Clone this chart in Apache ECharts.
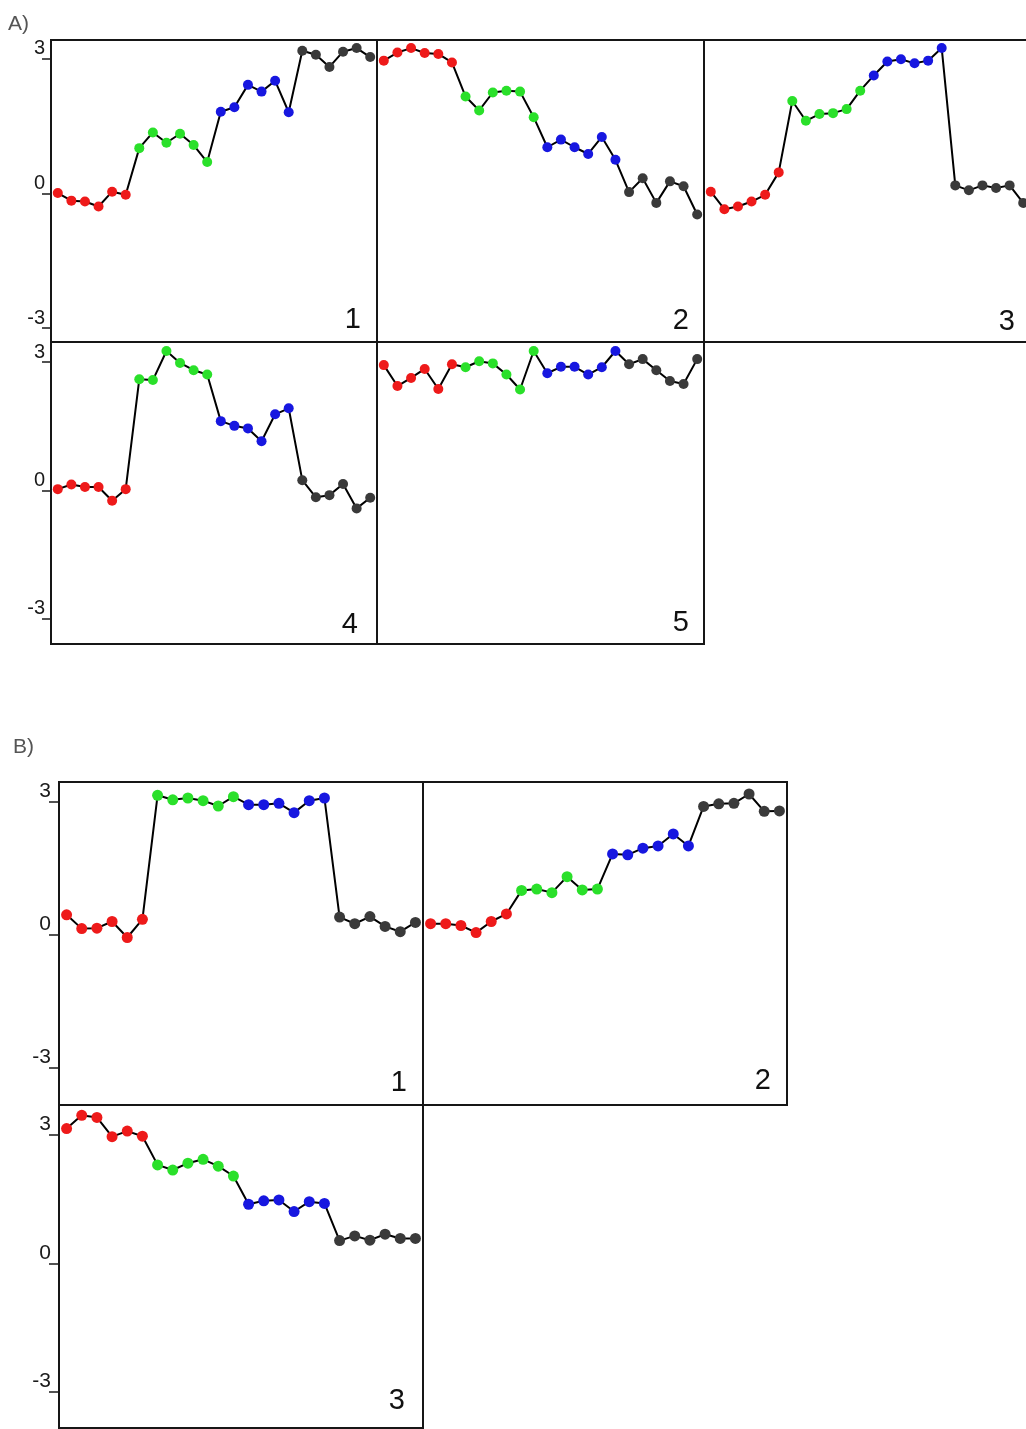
<!DOCTYPE html>
<html>
<head>
<meta charset="utf-8">
<script src="https://cdn.jsdelivr.net/npm/echarts@6/dist/echarts.min.js"></script>
<style>
html,body{margin:0;padding:0;background:#ffffff;}
#c{width:1026px;height:1429px;}
</style>
</head>
<body>
<div id="c"></div>
<script>
// ---- data ----
const categories = ['1','2','3','4','5','6','7','8','9','10','11','12','13','14','15','16','17','18','19','20','21','22','23','24'];
const groupColors = ['#ee1a1a', '#2ae02a', '#1717e0', '#3a3a3a']; // 6 points each
const groupSize = 6;
const yTickValues = [-3, 0, 3];
const sectionLabels = ['A)', 'B)'];
const panelNamesA = ['1', '2', '3', '4', '5'];
const panelNamesB = ['1', '2', '3'];

const A1 = [0.01,-0.16,-0.18,-0.29,0.04,-0.03, 1.01,1.36,1.13,1.33,1.08,0.70, 1.82,1.92,2.42,2.27,2.51,1.81, 3.18,3.09,2.82,3.16,3.24,3.04];
const A2 = [2.96,3.14,3.24,3.13,3.11,2.92, 2.16,1.85,2.25,2.29,2.27,1.70, 1.03,1.20,1.03,0.88,1.26,0.75, 0.03,0.34,-0.21,0.27,0.16,-0.47];
const A3 = [0.04,-0.35,-0.29,-0.18,-0.03,0.47, 2.06,1.62,1.77,1.79,1.88,2.29, 2.63,2.94,2.99,2.90,2.96,3.24, 0.18,0.07,0.18,0.12,0.18,-0.21];
const A4 = [0.03,0.14,0.08,0.08,-0.24,0.03, 2.60,2.58,3.26,2.98,2.81,2.71, 1.62,1.51,1.45,1.15,1.78,1.92, 0.24,-0.16,-0.11,0.15,-0.42,-0.17];
const A5 = [2.93,2.44,2.63,2.84,2.37,2.95, 2.88,3.02,2.97,2.71,2.36,3.26, 2.74,2.89,2.89,2.71,2.88,3.26, 2.95,3.07,2.81,2.56,2.49,3.07];
const B1 = [0.45,0.14,0.15,0.30,-0.06,0.35, 3.14,3.04,3.08,3.02,2.90,3.11, 2.93,2.93,2.96,2.75,3.02,3.08, 0.40,0.25,0.41,0.19,0.07,0.28];
const B2 = [0.25,0.25,0.21,0.05,0.30,0.47, 1.00,1.03,0.95,1.31,1.01,1.03, 1.82,1.80,1.95,2.00,2.27,2.00, 2.89,2.95,2.96,3.17,2.78,2.79];
const B3 = [3.15,3.46,3.41,2.96,3.09,2.97, 2.30,2.18,2.34,2.43,2.27,2.04, 1.38,1.46,1.48,1.21,1.44,1.40, 0.53,0.64,0.54,0.68,0.58,0.58];

// ---- layout ----
const FONT = '"Liberation Sans", Arial, Helvetica, sans-serif';
const panels = [
  {name: panelNamesA[0], data: A1, left: 51,  top: 40,  width: 326, height: 302, ymin: -3.31, ymax: 3.42, axis: true,  fs: 20, sym: 10, margin: 6, tick: 9,  lx: 361,  ly: 320},
  {name: panelNamesA[1], data: A2, left: 377, top: 40,  width: 327, height: 302, ymin: -3.31, ymax: 3.42, axis: false, fs: 20, sym: 10, margin: 6, tick: 9,  lx: 689,  ly: 321},
  {name: panelNamesA[2], data: A3, left: 704, top: 40,  width: 326, height: 302, ymin: -3.31, ymax: 3.42, axis: false, fs: 20, sym: 10, margin: 6, tick: 9,  lx: 1015, ly: 322},
  {name: panelNamesA[3], data: A4, left: 51,  top: 342, width: 326, height: 302, ymin: -3.59, ymax: 3.47, axis: true,  fs: 20, sym: 10, margin: 6, tick: 9,  lx: 358,  ly: 625},
  {name: panelNamesA[4], data: A5, left: 377, top: 342, width: 327, height: 302, ymin: -3.59, ymax: 3.47, axis: false, fs: 20, sym: 10, margin: 6, tick: 9,  lx: 689,  ly: 623},
  {name: panelNamesB[0], data: B1, left: 59,  top: 782, width: 364, height: 323, ymin: -3.83, ymax: 3.44, axis: true,  fs: 21, sym: 11, margin: 8, tick: 10, lx: 407,  ly: 1083},
  {name: panelNamesB[1], data: B2, left: 423, top: 782, width: 364, height: 323, ymin: -3.83, ymax: 3.44, axis: false, fs: 21, sym: 11, margin: 8, tick: 10, lx: 771,  ly: 1081},
  {name: panelNamesB[2], data: B3, left: 59,  top: 1105,width: 364, height: 323, ymin: -3.85, ymax: 3.70, axis: true,  fs: 21, sym: 11, margin: 8, tick: 10, lx: 405,  ly: 1401}
];

const grids = [], xAxes = [], yAxes = [], series = [], graphics = [];
panels.forEach((p, i) => {
  grids.push({
    left: p.left, top: p.top, width: p.width, height: p.height,
    show: true, borderColor: '#161616', borderWidth: 2, backgroundColor: 'transparent',
    containLabel: false, outerBoundsMode: 'none'
  });
  xAxes.push({
    type: 'category', gridIndex: i, data: categories, boundaryGap: true,
    axisLine: {show: false}, axisTick: {show: false}, axisLabel: {show: false}, splitLine: {show: false}
  });
  yAxes.push({
    type: 'value', gridIndex: i, min: p.ymin, max: p.ymax,
    axisLine: {show: false},
    splitLine: {show: false},
    axisTick: {show: p.axis, inside: false, length: p.tick, customValues: yTickValues,
               lineStyle: {color: '#1a1a1a', width: 1.5}},
    axisLabel: {show: p.axis, customValues: yTickValues, margin: p.margin,
                fontFamily: FONT, fontSize: p.fs, color: '#1a1a1a',
                align: 'right', verticalAlign: 'bottom', lineHeight: p.fs,
                formatter: v => String(Math.round(v))}
  });
  series.push({
    type: 'line', xAxisIndex: i, yAxisIndex: i,
    data: p.data.map((v, k) => ({
      value: v,
      symbol: 'circle', symbolSize: p.sym,
      itemStyle: {color: groupColors[Math.floor(k / groupSize)], borderWidth: 0, opacity: 1}
    })),
    symbol: 'circle', symbolSize: p.sym, showSymbol: true, showAllSymbol: true,
    lineStyle: {color: '#000000', width: 2},
    clip: false, silent: true, z: 3
  });
  graphics.push({
    type: 'text', x: p.lx, y: p.ly, z: 10,
    style: {text: p.name, font: '29px ' + FONT, fill: '#111111', textAlign: 'right', textVerticalAlign: 'middle'}
  });
});
graphics.push({type: 'text', x: 8,  y: 24,  style: {text: sectionLabels[0], font: '21px ' + FONT, fill: '#555555', textAlign: 'left', textVerticalAlign: 'middle'}});
graphics.push({type: 'text', x: 13, y: 747, style: {text: sectionLabels[1], font: '21px ' + FONT, fill: '#555555', textAlign: 'left', textVerticalAlign: 'middle'}});

const chart = echarts.init(document.getElementById('c'), null, {renderer: 'canvas', width: 1026, height: 1429});
chart.setOption({
  animation: false,
  backgroundColor: '#ffffff',
  grid: grids, xAxis: xAxes, yAxis: yAxes, series: series,
  graphic: {elements: graphics}
});
</script>
</body>
</html>
